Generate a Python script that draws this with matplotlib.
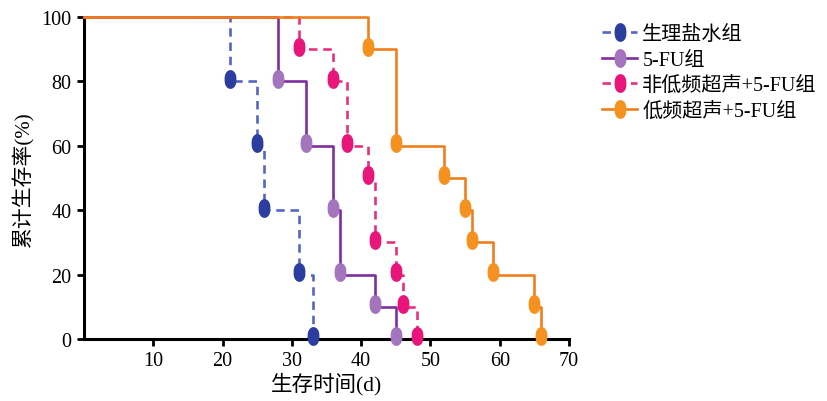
import matplotlib
matplotlib.use("Agg")
import matplotlib.pyplot as plt
from matplotlib.path import Path
import numpy as np

# Data
saline_t = [0, 21, 25, 26, 31, 33]
saline_s = [100, 80, 60, 40, 20, 0]
fu_t = [0, 28, 32, 36, 37, 42, 45]
fu_s = [100, 80, 60, 40, 20, 10, 0]
nonlow_t = [0, 31, 36, 38, 41, 42, 45, 46, 48]
nonlow_s = [100, 90, 80, 60, 50, 30, 20, 10, 0]
low_t = [0, 41, 45, 52, 55, 56, 59, 65, 66]
low_s = [100, 90, 60, 50, 40, 30, 20, 10, 0]
labels = ["生理盐水组", "5-FU组", "非低频超声+5-FU组", "低频超声+5-FU组"]
xticks = [10, 20, 30, 40, 50, 60, 70]
yticks = [0, 20, 40, 60, 80, 100]

FONT = ['Liberation Serif', 'Noto Sans CJK SC']
plt.rcParams['font.family'] = FONT

# vertical capsule-like marker
th = np.linspace(0, 2 * np.pi, 48)
ell = Path(np.column_stack([0.6 * np.cos(th), np.sign(np.sin(th)) * np.abs(np.sin(th)) ** 0.8]), closed=True)

fig = plt.figure(figsize=(8.28, 4.02), dpi=100)
ax = fig.add_axes([84 / 828, 1 - 340 / 402, (569 - 84) / 828, (340 - 18) / 402])

series = [
    (saline_t, saline_s, '#5565c4', '#2b3d9e', (0, (3.2, 2.2))),
    (fu_t, fu_s, '#7e2e9e', '#a474bd', '-'),
    (nonlow_t, nonlow_s, '#e6307f', '#e8157a', (0, (3.2, 2.2))),
    (low_t, low_s, '#f07e1c', '#f5921f', '-'),
]
handles = []
for (t, s, lc, mc, ls), lab in zip(series, labels):
    ax.plot(t, s, drawstyle='steps-post', color=lc, lw=1.9, ls=ls,
            clip_on=False, zorder=3)
    ax.plot(t[1:], [v + 0.8 for v in s[1:]], ls='none', marker=ell,
            markersize=12.5, color=mc, clip_on=False, zorder=4)
    h, = ax.plot([], [], color=lc, lw=1.9, ls=ls, marker=ell,
                 markersize=12.5, markerfacecolor=mc, markeredgecolor=mc)
    handles.append(h)

ax.set_xlim(0, 70)
ax.set_ylim(0, 100)
ax.set_xticks(xticks)
ax.set_yticks(yticks)
for sp in ['top', 'right']:
    ax.spines[sp].set_visible(False)
for sp in ['left', 'bottom']:
    ax.spines[sp].set_linewidth(2.2)
ax.tick_params(axis='both', width=2.0, length=5, labelsize=14.5, direction='out', pad=4)
ax.set_xlabel("生存时间(d)", fontsize=15.5, labelpad=1)
ax.set_ylabel("累计生存率(%)", fontsize=15, labelpad=5)

fig.legend(handles=handles, labels=labels, loc='upper left',
           bbox_to_anchor=(602 / 828, 1 - 26 / 402), frameon=False,
           fontsize=14.5, handlelength=1.75, handletextpad=0.25,
           labelspacing=0.32, borderaxespad=0, borderpad=0)

fig.savefig("out.png", dpi=100)
